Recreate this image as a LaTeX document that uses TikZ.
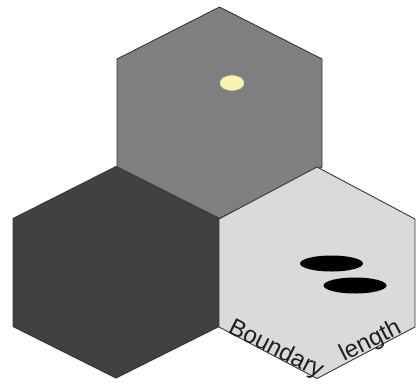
\documentclass[tikz,border=0pt]{standalone}
\usepackage{fontspec}
\setsansfont{Liberation Sans}
\usetikzlibrary{positioning}
\definecolor{edge}    {HTML}{383838}
\definecolor{ink}     {HTML}{1E1E1E}
\definecolor{cellMid} {HTML}{7F7F7F}
\definecolor{cellDk}  {HTML}{414141}
\definecolor{cellLt}  {HTML}{DADADA}
\definecolor{seed}    {HTML}{F8F4B4}
\definecolor{seedRim} {HTML}{DCD89A}

\begin{document}
\begin{tikzpicture}[x=1pt, y=-1pt]
  \useasboundingbox (0,0) rectangle (417,386);
  % the three cells
  \foreach \xl/\xr/\yt/\col in {117/322/7/cellMid, 13/219/166.5/cellDk, 219/415/167/cellLt}{
    \pgfmathsetmacro{\xm}{(\xl+\xr)/2}
    \draw[fill=\col, draw=edge, line width=0.9pt, line join=round]
      (\xm,\yt) -- (\xr,\yt+52) -- (\xr,\yt+160) -- (\xm,\yt+211.5)
      -- (\xl,\yt+160) -- (\xl,\yt+52) -- cycle;
  }
  % spots
  \fill[seed, draw=seedRim, line width=0.6pt] (232,83) ellipse [x radius=12, y radius=7.5];
  \foreach \sx/\sy in {331.5/263.5, 355/285.5}{
    \fill[black] (\sx,\sy) ellipse [x radius=31.5, y radius=8];
  }
  % edge labels
  \node[font=\sffamily\fontsize{24}{26}\selectfont, color=ink, inner sep=0pt,
        anchor=base west, rotate=-26.8] (lblBoundary) at (227,332) {Boundary};
  \node[font=\sffamily\fontsize{24}{26}\selectfont, color=ink, inner sep=0pt,
        anchor=base west, rotate=26.8] (lblLength) at (344,362) {length};
\end{tikzpicture}
\end{document}
